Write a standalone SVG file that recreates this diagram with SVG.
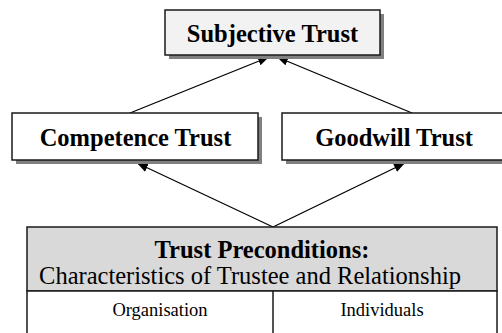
<svg xmlns="http://www.w3.org/2000/svg" width="502" height="333" viewBox="0 0 502 333">
<style>
.box{stroke:#1a1a1a;stroke-width:1.5}
.shadow{fill:#808080}
.b{font-family:"Liberation Serif","Times New Roman",serif;font-weight:bold;font-size:24.5px;fill:#000;text-anchor:middle}
.r{font-family:"Liberation Serif","Times New Roman",serif;font-size:24.5px;fill:#000;text-anchor:middle}
.s{font-family:"Liberation Serif","Times New Roman",serif;font-size:18.5px;fill:#000;text-anchor:middle}
.c{stroke:#000;stroke-width:1.3;fill:none;marker-end:url(#ah)}
</style>
<defs>
<marker id="ah" markerUnits="userSpaceOnUse" markerWidth="12" markerHeight="10" refX="11" refY="4.5" orient="auto">
<path d="M0,0 L11,4.5 L0,9 z" fill="#000"/>
</marker>
</defs>
<rect width="502" height="333" fill="#fff"/>
<g id="connectors">
<line class="c" x1="130" y1="113" x2="269" y2="57"/>
<line class="c" x1="412" y1="113" x2="277" y2="57"/>
<line class="c" x1="273" y1="227" x2="137" y2="163"/>
<line class="c" x1="273" y1="227" x2="405" y2="163"/>
</g>
<g id="subjective">
<rect class="shadow" x="169" y="14" width="215" height="45"/>
<rect class="box" x="165" y="10" width="215" height="45" fill="#f2f2f2"/>
<text class="b" x="272.5" y="42">Subjective Trust</text>
</g>
<g id="competence">
<rect class="shadow" x="16" y="117" width="246" height="47"/>
<rect class="box" x="12" y="113" width="246" height="47" fill="#fff"/>
<text class="b" x="135.5" y="146">Competence Trust</text>
</g>
<g id="goodwill">
<rect class="shadow" x="286" y="117" width="224" height="47"/>
<rect class="box" x="282" y="113" width="224" height="47" fill="#fff"/>
<text class="b" x="394" y="146">Goodwill Trust</text>
</g>
<g id="preconditions">
<rect class="box" x="27" y="227" width="470" height="64" fill="#d9d9d9"/>
<rect class="box" x="27" y="291" width="470" height="50" fill="#fff"/>
<line class="box" x1="273" y1="291" x2="273" y2="341"/>
<text class="b" x="262" y="258">Trust Preconditions:</text>
<text class="r" x="250" y="284">Characteristics of Trustee and Relationship</text>
<text class="s" x="160" y="316">Organisation</text>
<text class="s" x="382" y="316">Individuals</text>
</g>
</svg>
